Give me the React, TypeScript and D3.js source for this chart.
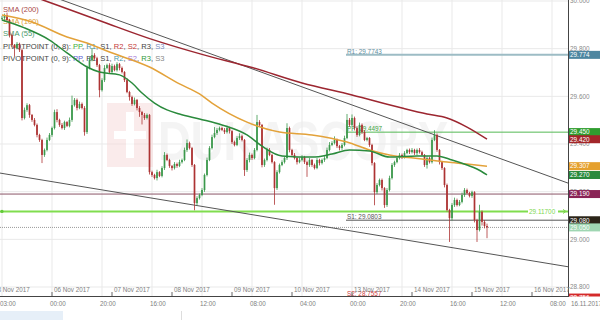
import React from 'react';
import * as d3 from 'd3';

// ---------- DATA ----------
const firstOpen = 29.925;
const closes = [
  29.929, 29.941, 29.920, 29.857,
  29.815, 29.803, 29.820, 29.794,
  29.509, 29.543, 29.563, 29.522,
  29.501, 29.480, 29.438, 29.417,
  29.354, 29.375, 29.417, 29.438,
  29.467, 29.534, 29.501, 29.480,
  29.467, 29.492, 29.476, 29.501,
  29.563, 29.585, 29.551, 29.568,
  29.551, 29.450, 29.719, 29.752,
  29.773, 29.760, 29.731, 29.626,
  29.668, 29.719, 29.731, 29.702,
  29.727, 29.710, 29.735, 29.719,
  29.702, 29.668, 29.618, 29.597,
  29.568, 29.585, 29.551, 29.534,
  29.522, 29.509, 29.522, 29.282,
  29.270, 29.257, 29.282, 29.266,
  29.299, 29.354, 29.333, 29.308,
  29.299, 29.316, 29.308, 29.324,
  29.333, 29.375, 29.404, 29.383,
  29.312, 29.152, 29.173, 29.186,
  29.207, 29.270, 29.333, 29.383,
  29.429, 29.446, 29.459, 29.467,
  29.459, 29.450, 29.467, 29.454,
  29.408, 29.396, 29.425, 29.433,
  29.417, 29.291, 29.333, 29.354,
  29.341, 29.375, 29.492, 29.480,
  29.312, 29.333, 29.375, 29.354,
  29.324, 29.215, 29.282, 29.312,
  29.324, 29.341, 29.467, 29.375,
  29.354, 29.341, 29.324, 29.333,
  29.345, 29.324, 29.312, 29.333,
  29.312, 29.299, 29.333, 29.320,
  29.333, 29.341, 29.375, 29.396,
  29.404, 29.417, 29.391, 29.383,
  29.396, 29.425, 29.501, 29.480,
  29.509, 29.467, 29.438, 29.480,
  29.450, 29.417, 29.425, 29.396,
  29.320, 29.198, 29.228, 29.249,
  29.215, 29.144, 29.207, 29.257,
  29.312, 29.324, 29.341, 29.354,
  29.345, 29.362, 29.375, 29.366,
  29.375, 29.362, 29.375, 29.366,
  29.354, 29.312, 29.341, 29.324,
  29.417, 29.438, 29.375, 29.324,
  29.299, 29.228, 29.123, 29.089,
  29.144, 29.165, 29.144, 29.157,
  29.186, 29.207, 29.194, 29.182,
  29.198, 29.081, 29.039, 29.115,
  29.073, 29.056, 29.050,
];
// upper / lower wick lengths in thousandths
const wickUp = [
  8, 6, 10, 5, 6, 4, 8, 5, 6, 10, 8, 5, 4, 8, 6, 5,
  5, 6, 10, 8, 6, 10, 12, 5, 8, 6, 4, 10, 40, 8, 6, 10,
  6, 8, 10, 12, 30, 8, 6, 5, 8, 12, 6, 8, 10, 6, 8, 5,
  6, 4, 8, 5, 6, 10, 4, 8, 5, 8, 6, 4, 6, 5, 10, 4,
  8, 12, 6, 5, 4, 8, 6, 10, 6, 10, 15, 6, 5, 4, 8, 6,
  8, 6, 10, 8, 10, 25, 8, 6, 6, 8, 10, 5, 4, 6, 8, 12,
  6, 4, 8, 10, 6, 8, 30, 8, 4, 6, 10, 8, 5, 4, 8, 6,
  8, 6, 20, 6, 5, 8, 6, 10, 8, 5, 6, 8, 4, 6, 8, 5,
  6, 8, 10, 12, 8, 15, 6, 5, 8, 10, 25, 8, 15, 6, 8, 10,
  6, 8, 5, 4, 5, 4, 8, 6, 6, 4, 8, 10, 8, 6, 5, 8,
  6, 8, 5, 6, 8, 5, 6, 8, 6, 4, 8, 6, 10, 20, 6, 4,
  5, 4, 6, 5, 8, 10, 6, 8, 10, 8, 6, 5, 6, 4, 5, 30,
  6, 8, 10,
];
const wickDn = [
  6, 8, 5, 10, 8, 35, 6, 8, 10, 6, 8, 12, 8, 6, 10, 8,
  34, 8, 6, 5, 8, 6, 10, 8, 6, 8, 5, 6, 8, 6, 10, 5,
  6, 15, 8, 6, 5, 6, 8, 30, 6, 8, 5, 6, 8, 5, 6, 10,
  6, 8, 5, 15, 8, 6, 10, 20, 40, 8, 6, 10, 8, 6, 10, 5,
  6, 8, 5, 8, 10, 6, 8, 5, 6, 5, 8, 6, 8, 30, 10, 6,
  5, 8, 6, 5, 6, 5, 8, 6, 5, 8, 6, 10, 8, 6, 5, 8,
  6, 25, 8, 10, 8, 5, 6, 8, 10, 8, 6, 5, 6, 70, 8, 6,
  5, 6, 8, 10, 8, 6, 10, 5, 6, 8, 50, 8, 8, 6, 5, 10,
  6, 8, 5, 6, 5, 6, 8, 10, 8, 6, 5, 8, 6, 10, 8, 6,
  8, 5, 6, 8, 10, 55, 8, 6, 10, 12, 8, 6, 6, 8, 5, 6,
  8, 6, 5, 8, 6, 8, 10, 6, 5, 8, 15, 6, 6, 5, 8, 10,
  8, 10, 6, 100, 10, 8, 6, 5, 6, 8, 5, 6, 8, 10, 50, 6,
  15, 10, 45,
];

const sma200Idx = [0, 18, 40, 60, 80, 100, 120, 140, 160, 170, 178, 186, 194];
const sma200Val = [30.067, 29.998, 29.914, 29.839, 29.776, 29.721, 29.656, 29.606, 29.551, 29.526, 29.509, 29.471, 29.420];
const sma100Idx = [0, 12, 26, 34, 43, 59, 71, 79, 84, 98, 111, 124, 138, 147, 155, 168, 178, 186, 194];
const sma100Val = [29.941, 29.912, 29.849, 29.824, 29.786, 29.723, 29.652, 29.610, 29.572, 29.492, 29.450, 29.438, 29.408, 29.375, 29.354, 29.337, 29.324, 29.316, 29.307];
const sma55Idx = [0, 9, 19, 26, 34, 39, 47, 52, 56, 61, 66, 71, 79, 88, 98, 104, 112, 124, 132, 139, 147, 155, 166, 174, 180, 186, 190, 194];
const sma55Val = [29.920, 29.887, 29.836, 29.782, 29.723, 29.702, 29.690, 29.656, 29.614, 29.572, 29.543, 29.526, 29.505, 29.480, 29.438, 29.391, 29.350, 29.345, 29.358, 29.375, 29.371, 29.345, 29.350, 29.350, 29.333, 29.312, 29.295, 29.270];

// trend lines: [hour, price]
const upperTrend = [[-20.8, 30.098], [206.4, 29.236]];
const lowerTrend = [[-20.8, 29.278], [206.4, 28.885]];

const pivotStartHour = 117.6;
const pivotR1 = 29.7743;
const pivotPP = 29.4497;
const pivotS1 = 29.0803;
const pivotS2 = 28.7557;
const levelMaroon = 29.19;
const levelGreen = 29.117;
const lastPrice = 29.05;

const yTicks = [28.8, 29.0, 29.2, 29.4, 29.6, 29.8, 30.0];
const dateTickHours = [-24, 0, 24, 48, 72, 96, 120, 144, 168, 192];
const dateTickLabels = ['03 Nov 2017', '06 Nov 2017', '07 Nov 2017', '08 Nov 2017', '09 Nov 2017', '10 Nov 2017', '13 Nov 2017', '14 Nov 2017', '15 Nov 2017', '16 Nov 2017'];
const timeTickHours = [-20, 0, 20, 40, 60, 80, 100, 120, 140, 160, 180, 200];
const timeTickLabels = ['03:00', '00:00', '20:00', '16:00', '12:00', '08:00', '04:00', '00:00', '20:00', '16:00', '12:00', '08:00'];

const rightLabelValues = [29.774, 29.45, 29.42, 29.307, 29.27, 29.19, 29.08, 29.05, 28.7557];
const rightLabelTexts = ['29.774', '29.450', '29.420', '29.307', '29.270', '29.190', '29.080', '29.050', '28.756'];
const rightLabelColors = ['#4d86a0', '#2f9d2f', '#a3262a', '#e5a02e', '#2a8a3c', '#8a2456', '#2b2418', '#9fd6b2', '#d42a2a'];

// ---------- LAYOUT ----------
const W = 600, H = 320;
const plotRight = 568, plotBottom = 296;
const FONT = '"Liberation Sans", Arial, sans-serif';

const x = d3.scaleLinear().domain([-20.8, 206.4]).range([0, plotRight]);
const y = d3.scaleLinear().domain([28.8, 30.0]).range([287, 1]);

const C_UP = '#3b984b';
const C_DN = '#ad3333';

export default function App() {
  const candles = closes.map((c, i) => {
    const o = i === 0 ? firstOpen : closes[i - 1];
    return { h: i - 20, o, c, hi: Math.max(o, c) + wickUp[i] / 1000, lo: Math.min(o, c) - wickDn[i] / 1000 };
  });
  const line = d3.line<[number, number]>().x(d => x(d[0])).y(d => y(d[1])).curve(d3.curveMonotoneX);
  const smaPath = (idx: number[], val: number[]) => line(idx.map((k, j) => [k - 20, val[j]] as [number, number])) || '';
  const straight = d3.line<number[]>().x(d => x(d[0])).y(d => y(d[1]));

  const legendY = [12, 24, 36, 48.5, 61];
  const sep = '#444';

  return (
    <svg width={W} height={H} style={{ position: 'absolute', left: 0, top: 0, background: '#fff' }} fontFamily={FONT}>
      <defs>
        <clipPath id="plot"><rect x={0} y={0} width={plotRight} height={plotBottom} /></clipPath>
      </defs>
      <rect x={0} y={0} width={W} height={H} fill="#fff" />
      {/* grid */}
      {timeTickHours.map((h, i) => (
        <line key={'vg' + i} x1={x(h)} x2={x(h)} y1={0} y2={plotBottom} stroke="#e9e9e9" strokeWidth={1} />
      ))}
      {yTicks.map((v, i) => (
        <line key={'hg' + i} x1={0} x2={plotRight} y1={y(v)} y2={y(v)} stroke="#e9e9e9" strokeWidth={1} />
      ))}
      {/* watermark */}
      <g opacity={0.55}>
        <rect x={107} y={103} width={46} height={64} fill="#f7dcdc" />
        <rect x={126} y={112} width={8} height={46} fill="#fff" />
        <rect x={114} y={131} width={32} height={8} fill="#fff" />
        <text x={158} y={160} fontSize={56} fontWeight="bold" fill="#ececec" textLength={290} lengthAdjust="spacingAndGlyphs">DUKASCOPY</text>
      </g>
      {/* legend */}
      <g fontSize={7.6}>
        <text x={3} y={legendY[0]} fill="#a84848">SMA (200)</text>
        <text x={3} y={legendY[1]} fill="#dca23c">SMA (100)</text>
        <text x={3} y={legendY[2]} fill="#4b9a6c">SMA (55)</text>
        <text x={3} y={legendY[3]} fill={sep}>
          PIVOTPOINT (0, 8): <tspan fill="#3fae3f">PP</tspan>, <tspan fill="#4a8fa6">R1</tspan>, <tspan fill={sep}>S1</tspan>, <tspan fill="#c43a3a">R2</tspan>, <tspan fill="#c43a3a">S2</tspan>, <tspan fill={sep}>R3</tspan>, <tspan fill="#7d8cc0">S3</tspan>
        </text>
        <text x={3} y={legendY[4]} fill={sep}>
          PIVOTPOINT (0, 9): <tspan fill="#5a5ad2">PP</tspan>, <tspan fill={sep}>R1</tspan>, <tspan fill={sep}>S1</tspan>, <tspan fill="#4a9aab">R2</tspan>, <tspan fill="#a577d6">S2</tspan>, <tspan fill="#2e9a3c">R3</tspan>, <tspan fill="#888">S3</tspan>
        </text>
      </g>
      <g clipPath="url(#plot)">
        {/* horizontal levels */}
        <line x1={0} x2={plotRight} y1={y(levelMaroon)} y2={y(levelMaroon)} stroke="#8a5466" strokeWidth={1} />
        <line x1={0} x2={plotRight} y1={y(lastPrice)} y2={y(lastPrice)} stroke="#9a9a9a" strokeWidth={1} strokeDasharray="1,1" />
        <line x1={0} x2={plotRight} y1={y(levelGreen)} y2={y(levelGreen)} stroke="#80dd4e" strokeWidth={2} />
        <circle cx={2} cy={y(levelGreen)} r={1.6} fill="#62c93a" />
        {/* pivots */}
        <line x1={x(pivotStartHour)} x2={plotRight} y1={y(pivotR1)} y2={y(pivotR1)} stroke="#9dbcc5" strokeWidth={2} />
        <text x={x(pivotStartHour) + 1} y={y(pivotR1) - 1} fontSize={6.4} fill="#5f8fa0">R1: 29.7743</text>
        <line x1={x(pivotStartHour)} x2={plotRight} y1={y(pivotPP)} y2={y(pivotPP)} stroke="#55b955" strokeWidth={1} />
        <text x={x(pivotStartHour) + 1} y={y(pivotPP) - 1} fontSize={6.4} fill="#3fa53f">PP: 29.4497</text>
        <line x1={x(pivotStartHour)} x2={plotRight} y1={y(pivotS1)} y2={y(pivotS1)} stroke="#555" strokeWidth={1} />
        <text x={x(pivotStartHour) + 1} y={y(pivotS1) - 1} fontSize={6.4} fill="#555">S1: 29.0803</text>
        {/* trend lines */}
        <path d={straight(upperTrend) || ''} stroke="#555" strokeWidth={1} fill="none" />
        <path d={straight(lowerTrend) || ''} stroke="#555" strokeWidth={1} fill="none" />
        {/* candles */}
        {candles.map((d, i) => {
          const col = d.c >= d.o ? C_UP : C_DN;
          const cx = x(d.h);
          const top = y(Math.max(d.o, d.c));
          const bh = Math.max(1, y(Math.min(d.o, d.c)) - top);
          return (
            <g key={'c' + i}>
              <line x1={cx} x2={cx} y1={y(d.hi)} y2={y(d.lo)} stroke={col} strokeWidth={0.8} />
              <rect x={cx - 0.85} y={top} width={1.7} height={bh} fill={col} />
            </g>
          );
        })}
        {/* SMAs */}
        <path d={smaPath(sma200Idx, sma200Val)} stroke="#9c2630" strokeWidth={1.5} fill="none" />
        <path d={smaPath(sma100Idx, sma100Val)} stroke="#e3a23a" strokeWidth={1.5} fill="none" />
        <path d={smaPath(sma55Idx, sma55Val)} stroke="#2a8a3c" strokeWidth={1.5} fill="none" />
        {/* green level label */}
        <rect x={528} y={y(levelGreen) - 3.5} width={30} height={7} fill="#fff" />
        <text x={529} y={y(levelGreen) + 2.2} fontSize={6.4} fill="#7ed64e">29.11700</text>
        <path d={`M${560},${y(levelGreen)} L${565},${y(levelGreen)} M${563},${y(levelGreen) - 2} L${566},${y(levelGreen)} L${563},${y(levelGreen) + 2}`} stroke="#7ed64e" strokeWidth={1} fill="none" />
      </g>
      {/* S2 label near bottom */}
      <text x={x(pivotStartHour) + 1} y={296} fontSize={6.4} fill="#d03a3a">S2: 28.7557</text>
      {/* right axis */}
      <line x1={plotRight + 0.5} x2={plotRight + 0.5} y1={0} y2={plotBottom} stroke="#444" strokeWidth={1} />
      {yTicks.map((v, i) => (
        <text key={'yt' + i} x={570} y={y(v) + 2.3} fontSize={6.4} fill="#8a8a8a">{v.toFixed(3)}</text>
      ))}
      {rightLabelValues.map((v, i) => (
        <g key={'rl' + i}>
          <rect x={plotRight + 1} y={y(v) - 4} width={W - plotRight} height={8} fill={rightLabelColors[i]} />
          <text x={570} y={y(v) + 2.3} fontSize={6.4} fill="#fff">{rightLabelTexts[i]}</text>
        </g>
      ))}
      {/* bottom axis area */}
      <rect x={0} y={plotBottom + 0.5} width={W} height={H - plotBottom} fill="#fff" />
      <line x1={0} x2={plotRight + 1} y1={plotBottom + 0.5} y2={plotBottom + 0.5} stroke="#444" strokeWidth={1} />
      {dateTickHours.map((h, i) => (
        <g key={'dt' + i}>
          <line x1={x(h)} x2={x(h)} y1={292} y2={296} stroke="#666" strokeWidth={1} />
          <text x={x(h) + 2} y={291.5} fontSize={6.3} fill="#808080">{dateTickLabels[i]}</text>
        </g>
      ))}
      {timeTickHours.map((h, i) => (
        <text key={'tt' + i} x={x(h) + 6} y={305.5} fontSize={6.3} fill="#808080" textAnchor="middle">{timeTickLabels[i]}</text>
      ))}
      <text x={571} y={305.5} fontSize={6.3} fill="#808080">16.11.2017</text>
      {/* faint partial panel below */}
      <rect x={0} y={311} width={63} height={9} fill="#e6eff8" />
      <line x1={181.5} x2={181.5} y1={311} y2={320} stroke="#ddd" strokeWidth={1} />
    </svg>
  );
}
